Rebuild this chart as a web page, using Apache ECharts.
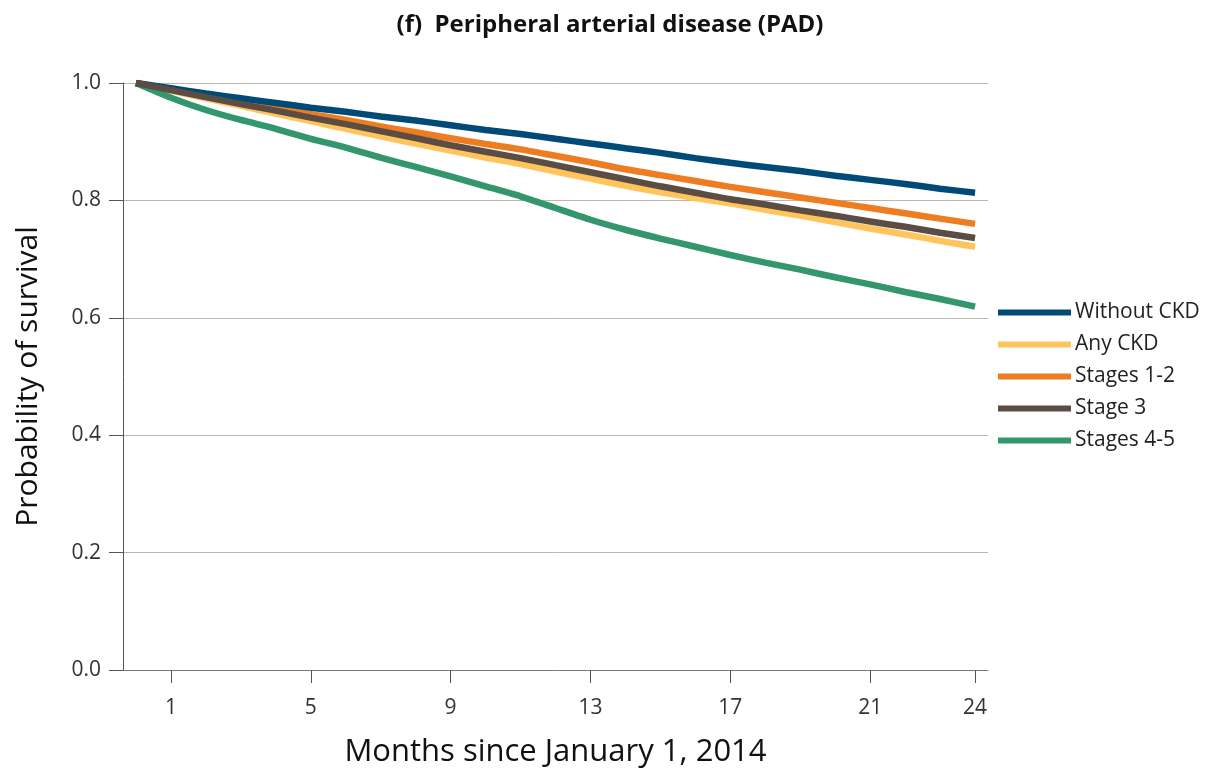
<!DOCTYPE html>
<html>
<head>
<meta charset="utf-8">
<script src="https://cdn.jsdelivr.net/npm/echarts@6/dist/echarts.min.js"></script>
<style>
html,body{margin:0;padding:0;background:#fff;}
#chart{width:1219px;height:779px;}
</style>
</head>
<body>
<div id="chart"></div>
<script>
const months = [0,1,2,3,4,5,6,7,8,9,10,11,12,13,14,15,16,17,18,19,20,21,22,23,24];
const xTickLabels = [1,5,9,13,17,21,24];
const seriesNames = ['Without CKD','Any CKD','Stages 1-2','Stage 3','Stages 4-5'];
const withoutCKD = [1.000,0.991,0.982,0.974,0.966,0.958,0.951,0.943,0.936,0.928,0.920,0.913,0.905,0.897,0.889,0.881,0.872,0.864,0.857,0.850,0.842,0.835,0.828,0.820,0.813];
const anyCKD     = [1.000,0.987,0.974,0.961,0.948,0.935,0.922,0.909,0.897,0.885,0.873,0.862,0.849,0.837,0.825,0.814,0.804,0.795,0.784,0.774,0.763,0.752,0.742,0.731,0.721];
const stages12   = [1.000,0.989,0.978,0.968,0.957,0.947,0.937,0.926,0.916,0.906,0.896,0.887,0.876,0.865,0.853,0.843,0.833,0.823,0.814,0.805,0.796,0.787,0.778,0.769,0.760];
const stage3     = [1.000,0.988,0.976,0.964,0.953,0.941,0.930,0.918,0.906,0.894,0.883,0.872,0.860,0.848,0.836,0.824,0.813,0.802,0.793,0.783,0.774,0.764,0.755,0.745,0.736];
const stages45   = [1.000,0.975,0.954,0.937,0.922,0.905,0.890,0.873,0.857,0.841,0.824,0.807,0.787,0.767,0.750,0.735,0.721,0.707,0.694,0.682,0.669,0.657,0.644,0.632,0.619];
const colors = ['#004a78','#ffc45c','#ee7d22','#5b4d44','#33966c'];
const allValues = [withoutCKD, anyCKD, stages12, stage3, stages45];

const font = '"Open Sans", "Noto Sans", sans-serif';
const chart = echarts.init(document.getElementById('chart'));
chart.setOption({
  animation: false,
  title: {
    text: '(f)  Peripheral arterial disease (PAD)',
    left: 605, top: 8, textAlign: 'center',
    textStyle: {fontFamily: font, fontSize: 24, fontWeight: 'bold', color: '#111'}
  },
  legend: {
    orient: 'vertical', left: 998, top: 302, padding: 0,
    itemWidth: 73, itemHeight: 6, itemGap: 11, icon: 'rect',
    textStyle: {fontFamily: font, fontSize: 21, color: '#222', lineHeight: 20, padding: [0,0,0,-1]},
    data: seriesNames
  },
  grid: {left: 123, right: 231, top: 83, bottom: 109, containLabel: false},
  xAxis: {
    type: 'value', min: -0.37, max: 24.37,
    name: 'Months since January 1, 2014', nameLocation: 'middle', nameGap: 67,
    nameTextStyle: {fontFamily: font, fontSize: 31, color: '#111'},
    axisLine: {show: true, onZero: false, lineStyle: {color: '#7a7a7a', width: 1}},
    axisTick: {show: true, length: 13, customValues: xTickLabels, lineStyle: {color: '#555'}},
    axisLabel: {customValues: xTickLabels, fontFamily: font, fontSize: 21, color: '#333', margin: 28},
    splitLine: {show: false}
  },
  yAxis: {
    type: 'value', min: 0, max: 1, interval: 0.2,
    name: 'Probability of survival', nameLocation: 'middle', nameGap: 80,
    nameTextStyle: {fontFamily: font, fontSize: 30, color: '#111'},
    axisLine: {show: true, onZero: false, lineStyle: {color: '#555', width: 1}},
    axisTick: {show: true, inside: false, length: 14, lineStyle: {color: '#555'}},
    axisLabel: {fontFamily: font, fontSize: 21, color: '#333', margin: 22, formatter: v => v.toFixed(1)},
    splitLine: {show: true, lineStyle: {color: '#bdb6ae', width: 1}}
  },
  series: seriesNames.map((n, i) => ({
    name: n, type: 'line', smooth: 0.2, symbol: 'none',
    data: months.map((m, j) => [m, allValues[i][j]]),
    lineStyle: {width: 6.5, color: colors[i], cap: 'butt'},
    itemStyle: {color: colors[i]},
    z: i === 3 ? 5 : (i === 1 ? 2 : 3 + (i === 0 ? 1 : 0))
  }))
});
</script>
</body>
</html>
